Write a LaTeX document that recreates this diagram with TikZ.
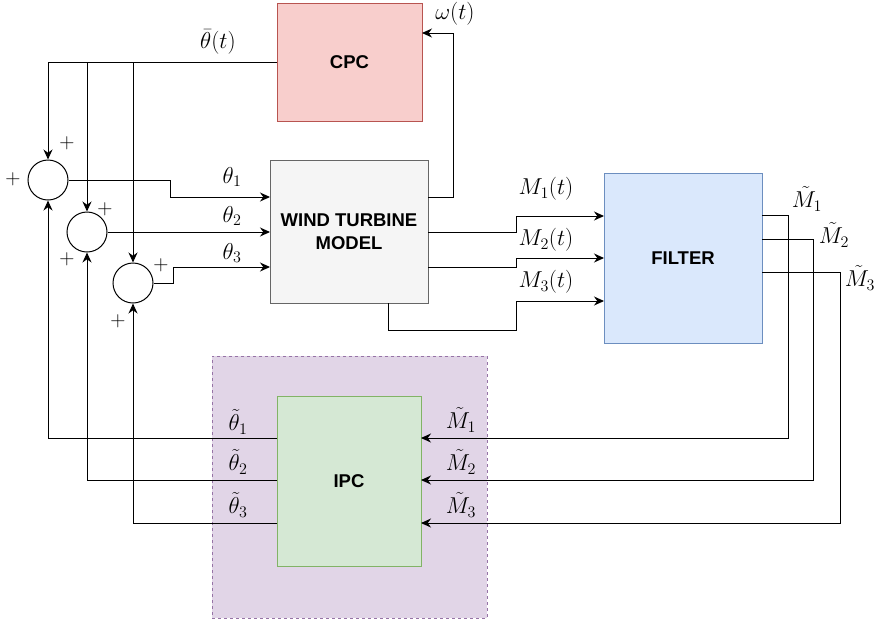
\RequirePackage{fix-cm}
\documentclass[tikz,border=0pt]{standalone}
\usepackage{fontspec}
\newfontfamily\blockfont{Liberation Sans}
\usetikzlibrary{arrows.meta}
\definecolor{cpcfill}{HTML}{F8CECC}
\definecolor{cpcline}{HTML}{B85450}
\definecolor{wtfill}{HTML}{F5F5F5}
\definecolor{wtline}{HTML}{666666}
\definecolor{filtfill}{HTML}{DAE8FC}
\definecolor{filtline}{HTML}{6C8EBF}
\definecolor{ipcfill}{HTML}{D5E8D4}
\definecolor{ipcline}{HTML}{82B366}
\definecolor{grpfill}{HTML}{E1D5E7}
\definecolor{grpline}{HTML}{9673A6}
\begin{document}
\begin{tikzpicture}[x=1pt,y=-1pt,block/.style={draw,line width=0.9pt,inner sep=0pt,font=\blockfont\bfseries\fontsize{18.5}{23}\selectfont,align=center},sum/.style={circle,draw,line width=1pt,minimum size=40pt,inner sep=0pt},feed/.style={line width=1pt,-{Stealth[length=10pt,width=9pt]}},lbl/.style={font=\fontsize{23}{26}\selectfont,inner sep=0pt},sign/.style={font=\fontsize{21}{24}\selectfont,inner sep=0pt}]
\useasboundingbox (0,0) rectangle (882,622);
\node[draw=grpline,fill=grpfill,dashed,line width=0.8pt,minimum width=275pt,minimum height=262pt] (ipcgroup) at (349.5,487) {};
\node[block,fill=cpcfill,draw=cpcline,minimum width=145pt,minimum height=118pt] (cpc) at (349.5,62) {CPC};
\node[block,fill=wtfill,draw=wtline,minimum width=158pt,minimum height=143pt] (wt) at (349,231.5) {WIND TURBINE\\MODEL};
\node[block,fill=filtfill,draw=filtline,minimum width=158pt,minimum height=170pt] (filter) at (683,258) {FILTER};
\node[block,fill=ipcfill,draw=ipcline,minimum width=144pt,minimum height=170pt] (ipc) at (349,481) {IPC};
\node[sum] (s1) at (48,180) {};
\node[sum] (s2) at (87,232) {};
\node[sum] (s3) at (133,283) {};
\coordinate (wi1) at (270,197);
\coordinate (wi2) at (270,232);
\coordinate (wi3) at (270,267);
\coordinate (wo0) at (428,197);
\coordinate (wo1) at (428,232);
\coordinate (wo2) at (428,267);
\coordinate (wo3) at (388,303);
\coordinate (ci) at (422,33);
\coordinate (fi1) at (604,216);
\coordinate (fi2) at (604,258);
\coordinate (fi3) at (604,301);
\coordinate (fo1) at (762,215);
\coordinate (fo2) at (762,239);
\coordinate (fo3) at (762,272);
\coordinate (ii1) at (421,438);
\coordinate (ii2) at (421,480);
\coordinate (ii3) at (421,523);
\coordinate (io1) at (277,438);
\coordinate (io2) at (277,480);
\coordinate (io3) at (277,523);
\draw[feed] (cpc.west) -| (s1.north);
\draw[feed] (s2.north |- cpc.west) -- (s2.north);
\draw[feed] (s3.north |- cpc.west) -- (s3.north);
\draw[feed] (s1.east) -- ++(102,0) |- (wi1);
\draw[feed] (s2.east) -- (wi2);
\draw[feed] (s3.east) -- ++(20,0) |- (wi3);
\draw[feed] (wo0) -- ++(25,0) |- (ci);
\draw[feed] (wo1) -- ++(88,0) |- (fi1);
\draw[feed] (wo2) -- ++(88,0) |- (fi2);
\draw[feed] (wo3) -- ++(0,27) -| (516,301) -- (fi3);
\draw[feed] (fo1) -- ++(26,0) |- (ii1);
\draw[feed] (fo2) -- ++(51,0) |- (ii2);
\draw[feed] (fo3) -- ++(78,0) |- (ii3);
\draw[feed] (io1) -| (s1.south);
\draw[feed] (io2) -| (s2.south);
\draw[feed] (io3) -| (s3.south);
\node[lbl] (thbar) at (218,42) {$\bar\theta(t)$};
\node[lbl] (om) at (455,14) {$\omega(t)$};
\node[lbl] (th1) at (232,177) {$\theta_1$};
\node[lbl] (th2) at (232,216) {$\theta_2$};
\node[lbl] (th3) at (232,253) {$\theta_3$};
\node[lbl] (m1) at (546,189) {$M_1(t)$};
\node[lbl] (m2) at (546,240) {$M_2(t)$};
\node[lbl] (m3) at (546,282) {$M_3(t)$};
\node[lbl] (mf1) at (807,199) {$\tilde M_1$};
\node[lbl] (mf2) at (834,235) {$\tilde M_2$};
\node[lbl] (mf3) at (860,278) {$\tilde M_3$};
\node[lbl] (mi1) at (461,420) {$\tilde M_1$};
\node[lbl] (mi2) at (461,462) {$\tilde M_2$};
\node[lbl] (mi3) at (461,505) {$\tilde M_3$};
\node[lbl] (tt1) at (238,422) {$\tilde\theta_1$};
\node[lbl] (tt2) at (238,462) {$\tilde\theta_2$};
\node[lbl] (tt3) at (238,505) {$\tilde\theta_3$};
\node[sign] (p1a) at (67,143) {$+$};
\node[sign] (p1b) at (13,179) {$+$};
\node[sign] (p2a) at (105,209) {$+$};
\node[sign] (p2b) at (67,259) {$+$};
\node[sign] (p3a) at (161,265) {$+$};
\node[sign] (p3b) at (118,321) {$+$};
\end{tikzpicture}
\end{document}
